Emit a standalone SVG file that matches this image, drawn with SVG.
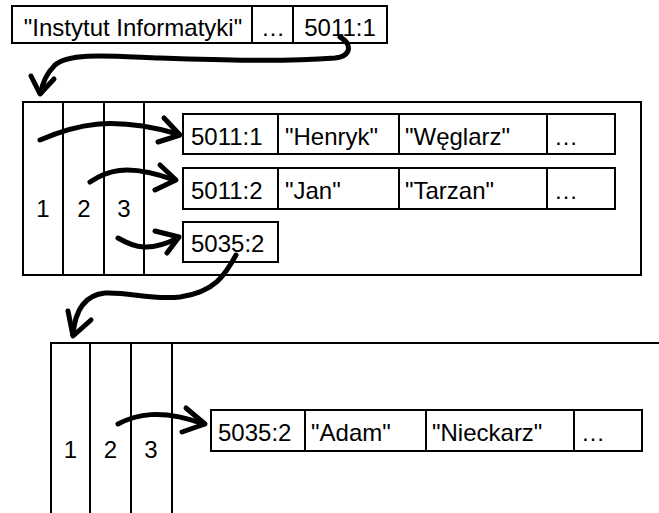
<svg xmlns="http://www.w3.org/2000/svg" width="659" height="513" viewBox="0 0 659 513">
<defs>
<style>
.box{fill:#fff;stroke:#000;stroke-width:2}
.ln{fill:none;stroke:#000;stroke-width:2}
.t{font-family:"Liberation Sans",Arial,sans-serif;font-size:24px;fill:#000}
.m{text-anchor:middle}
.arr{fill:none;stroke:#000;stroke-width:5;stroke-linecap:round;stroke-linejoin:round}
</style>
</defs>
<rect width="659" height="513" fill="#fff"/>
<g id="record-top">
<rect class="box" x="12" y="6" width="375" height="37"/>
<line class="ln" x1="252" y1="6" x2="252" y2="43"/>
<line class="ln" x1="293" y1="6" x2="293" y2="43"/>
<text class="t m" x="133" y="36">"Instytut Informatyki"</text>
<text class="t m" x="273" y="36">…</text>
<text class="t m" x="340" y="36">5011:1</text>
</g>
<g id="page-5011">
<rect class="box" x="23" y="102" width="618" height="173"/>
<line class="ln" x1="63" y1="102" x2="63" y2="275"/>
<line class="ln" x1="104" y1="102" x2="104" y2="275"/>
<line class="ln" x1="144" y1="102" x2="144" y2="275"/>
<text class="t m" x="43" y="217">1</text>
<text class="t m" x="84" y="217">2</text>
<text class="t m" x="124" y="217">3</text>
</g>
<g id="row-5011-1">
<rect class="box" x="183" y="114" width="432" height="40"/>
<line class="ln" x1="278" y1="114" x2="278" y2="154"/>
<line class="ln" x1="399" y1="114" x2="399" y2="154"/>
<line class="ln" x1="547" y1="114" x2="547" y2="154"/>
<text class="t" x="191" y="145">5011:1</text>
<text class="t" x="285" y="145">"Henryk"</text>
<text class="t" x="405" y="145">"Węglarz"</text>
<text class="t" x="554" y="145">…</text>
</g>
<g id="row-5011-2">
<rect class="box" x="183" y="168" width="432" height="41"/>
<line class="ln" x1="278" y1="168" x2="278" y2="209"/>
<line class="ln" x1="399" y1="168" x2="399" y2="209"/>
<line class="ln" x1="547" y1="168" x2="547" y2="209"/>
<text class="t" x="191" y="199">5011:2</text>
<text class="t" x="285" y="199">"Jan"</text>
<text class="t" x="405" y="199">"Tarzan"</text>
<text class="t" x="554" y="199">…</text>
</g>
<g id="row-forward">
<rect class="box" x="183" y="222" width="95" height="40"/>
<text class="t" x="191" y="252">5035:2</text>
</g>
<g id="page-5035">
<path class="ln" d="M659,343 H51 V513"/>
<line class="ln" x1="90" y1="343" x2="90" y2="513"/>
<line class="ln" x1="131" y1="343" x2="131" y2="513"/>
<line class="ln" x1="172" y1="343" x2="172" y2="513"/>
<text class="t m" x="70.5" y="458">1</text>
<text class="t m" x="110.5" y="458">2</text>
<text class="t m" x="151" y="458">3</text>
</g>
<g id="row-5035-2">
<rect class="box" x="211" y="410" width="431" height="41"/>
<line class="ln" x1="305" y1="410" x2="305" y2="451"/>
<line class="ln" x1="426" y1="410" x2="426" y2="451"/>
<line class="ln" x1="574" y1="410" x2="574" y2="451"/>
<text class="t" x="218" y="441">5035:2</text>
<text class="t" x="311" y="441">"Adam"</text>
<text class="t" x="432" y="441">"Nieckarz"</text>
<text class="t" x="581" y="441">…</text>
</g>
<g id="connectors">
<path class="arr" d="M340,37 C352,44 352,56 335,58 C280,62 220,60 160,58 C110,56 70,52 55,65 C45,75 42,85 41,93"/>
<path class="arr" d="M31,76 L40,94 L54,79"/>
<path class="arr" d="M40,140 C75,125 110,115 178,134"/>
<path class="arr" d="M164,118 L180,135 L158,142"/>
<path class="arr" d="M90,182 C105,172 125,162 174,180"/>
<path class="arr" d="M160,165 L176,180 L155,190"/>
<path class="arr" d="M118,238 C135,248 150,252 178,238"/>
<path class="arr" d="M155,231 L179,237 L167,253"/>
<path class="arr" d="M236,255 C225,275 215,292 180,297 C150,300 130,292 105,293 C85,295 75,310 73,335"/>
<path class="arr" d="M68,311 L73,336 L91,320"/>
<path class="arr" d="M118,424 C135,415 160,408 204,424"/>
<path class="arr" d="M186,408 L205,424 L182,432"/>
</g>
</svg>
